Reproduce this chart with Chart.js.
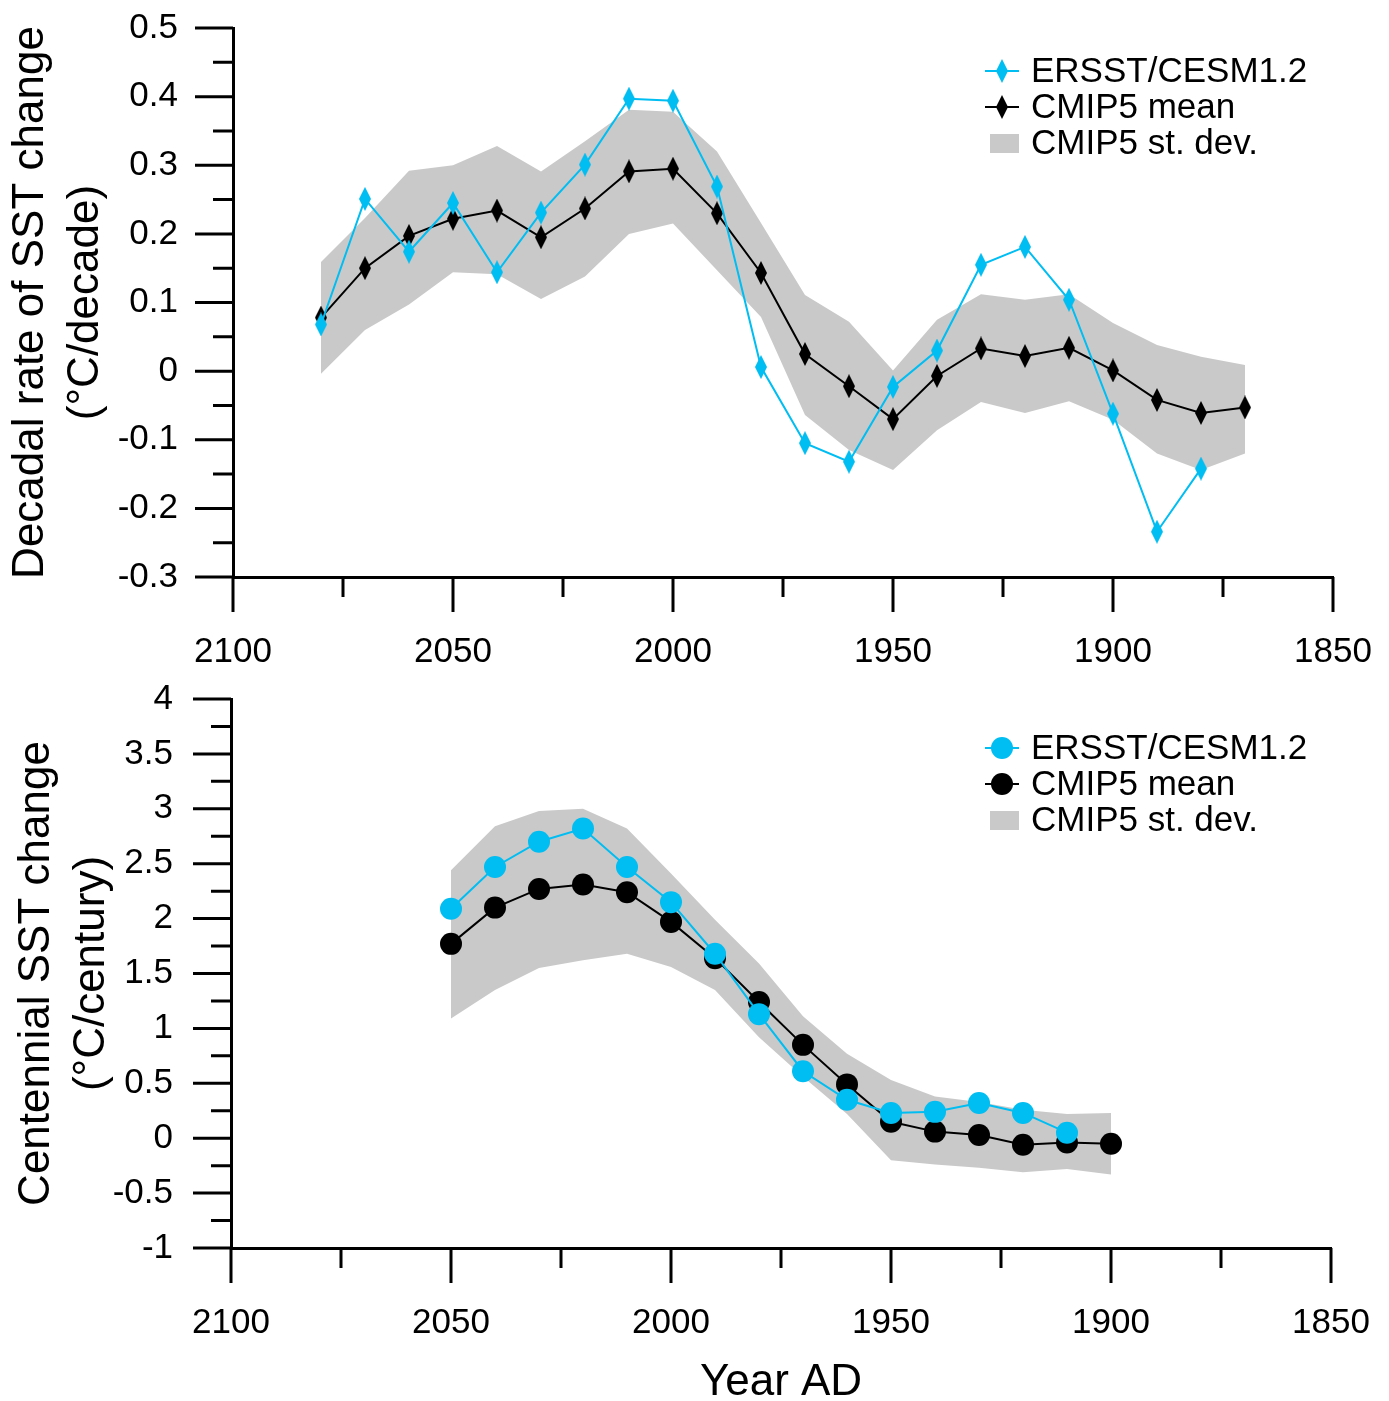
<!DOCTYPE html>
<html>
<head>
<meta charset="utf-8">
<script src="https://cdn.jsdelivr.net/npm/chart.js@4.4.1/dist/chart.umd.min.js"></script>
<style>
  html, body { margin: 0; padding: 0; background: #fff; overflow: hidden; }
  body { width: 1389px; height: 1401px; position: relative; }
  .panel { position: absolute; left: 0; }
  #topBox { top: 0; }
  #bottomBox { top: 670px; }
</style>
</head>
<body>
<div class="panel" id="topBox"><canvas id="decadalChart" width="1389" height="680"></canvas></div>
<div class="panel" id="bottomBox"><canvas id="centennialChart" width="1389" height="745"></canvas></div>
<script>
// ---- top panel: decadal rate of SST change (°C/decade)
const decadalYears = [2080, 2070, 2060, 2050, 2040, 2030, 2020, 2010, 2000, 1990, 1980,
                      1970, 1960, 1950, 1940, 1930, 1920, 1910, 1900, 1890, 1880, 1870];
const decadalMean  = [0.078, 0.150, 0.197, 0.222, 0.234, 0.195, 0.237, 0.291, 0.295, 0.230, 0.143,
                      0.025, -0.022, -0.070, -0.007, 0.033, 0.022, 0.034, 0.001, -0.042, -0.061, -0.053];
const decadalUpper = [0.159, 0.223, 0.292, 0.300, 0.328, 0.291, 0.335, 0.381, 0.378, 0.320, 0.216,
                      0.111, 0.072, 0.001, 0.075, 0.112, 0.104, 0.112, 0.070, 0.038, 0.021, 0.009];
const decadalLower = [-0.004, 0.060, 0.097, 0.144, 0.141, 0.105, 0.138, 0.200, 0.215, 0.147, 0.079,
                      -0.064, -0.115, -0.144, -0.086, -0.045, -0.061, -0.044, -0.071, -0.120, -0.144, -0.120];
const decadalErsstYears = [2080, 2070, 2060, 2050, 2040, 2030, 2020, 2010, 2000, 1990, 1980,
                           1970, 1960, 1950, 1940, 1930, 1920, 1910, 1900, 1890, 1880];
const decadalErsst = [0.068, 0.251, 0.174, 0.245, 0.144, 0.231, 0.301, 0.397, 0.394, 0.269, 0.006,
                      -0.105, -0.132, -0.023, 0.030, 0.155, 0.181, 0.104, -0.062, -0.234, -0.142];

// ---- bottom panel: centennial SST change (°C/century)
const centYears = [2050, 2040, 2030, 2020, 2010, 2000, 1990, 1980, 1970, 1960, 1950, 1940, 1930, 1920, 1910, 1900];
const centMean  = [1.77, 2.10, 2.27, 2.31, 2.24, 1.97, 1.64, 1.24, 0.85, 0.49, 0.15, 0.06, 0.03, -0.06, -0.04, -0.05];
const centUpper = [2.44, 2.84, 2.98, 3.00, 2.82, 2.41, 1.99, 1.59, 1.11, 0.77, 0.53, 0.38, 0.33, 0.26, 0.22, 0.23];
const centLower = [1.09, 1.35, 1.55, 1.62, 1.68, 1.56, 1.35, 0.92, 0.56, 0.22, -0.20, -0.24, -0.27, -0.31, -0.28, -0.33];
const centErsstYears = [2050, 2040, 2030, 2020, 2010, 2000, 1990, 1980, 1970, 1960, 1950, 1940, 1930, 1920, 1910];
const centErsst = [2.09, 2.47, 2.70, 2.82, 2.47, 2.15, 1.68, 1.13, 0.61, 0.35, 0.23, 0.24, 0.32, 0.23, 0.05];

const seriesLabels = ['ERSST/CESM1.2', 'CMIP5 mean', 'CMIP5 st. dev.'];
const yearTitle = 'Year AD';

const CYAN = '#00bdf2';
const BAND = '#c9c9c9';
const FONT = "'Liberation Sans', Arial, sans-serif";

function pairs(xs, ys) {
    return xs.map((x, i) => ({ x: x, y: ys[i] }));
}

// tall thin diamond used as marker in the top panel
function diamondMark(color, w, h) {
    const c = document.createElement('canvas');
    c.width = w;
    c.height = h;
    const g = c.getContext('2d');
    g.fillStyle = color;
    g.beginPath();
    g.moveTo(w / 2, 0);
    g.lineTo(w, h / 2);
    g.lineTo(w / 2, h);
    g.lineTo(0, h / 2);
    g.closePath();
    g.fill();
    return c;
}

// outward tick marks, long at labelled values, short in between
const axisTicks = {
    id: 'axisTicks',
    afterDraw(chart, args, opts) {
        const ctx = chart.ctx;
        const area = chart.chartArea;
        const xs = chart.scales.x;
        const ys = chart.scales.y;
        ctx.save();
        ctx.strokeStyle = '#000';
        ctx.lineWidth = opts.width;
        ctx.lineCap = 'butt';
        ctx.beginPath();
        xs.ticks.forEach(t => {
            const px = xs.getPixelForValue(t.value);
            const len = t.label !== '' ? opts.xMajor : opts.xMinor;
            ctx.moveTo(px, area.bottom);
            ctx.lineTo(px, area.bottom + len);
        });
        ys.ticks.forEach(t => {
            const py = ys.getPixelForValue(t.value);
            const len = t.label !== '' ? opts.yMajor : opts.yMinor;
            ctx.moveTo(area.left - len, py);
            ctx.lineTo(area.left, py);
        });
        ctx.stroke();
        ctx.restore();
    }
};

// legend with line + marker samples, drawn in the upper right of the plot
const sketchLegend = {
    id: 'sketchLegend',
    afterDraw(chart, args, opts) {
        const ctx = chart.ctx;
        ctx.save();
        ctx.font = opts.fontSize + 'px ' + FONT;
        ctx.textBaseline = 'middle';
        ctx.textAlign = 'left';
        let row = 0;
        chart.data.datasets.forEach(ds => {
            if (!ds.label) return;
            const y = opts.y + row * opts.gap;
            const x = opts.x;
            if (ds.fill) {
                ctx.fillStyle = ds.backgroundColor;
                ctx.fillRect(x + 5, y - 9, 29, 19);
            } else {
                ctx.strokeStyle = ds.borderColor;
                ctx.lineWidth = ds.borderWidth;
                ctx.beginPath();
                ctx.moveTo(x, y);
                ctx.lineTo(x + 34, y);
                ctx.stroke();
                const ps = ds.pointStyle;
                if (ps && typeof ps === 'object') {
                    ctx.drawImage(ps, x + 17 - ps.width / 2, y - ps.height / 2);
                } else {
                    ctx.fillStyle = ds.pointBackgroundColor;
                    ctx.beginPath();
                    ctx.arc(x + 17, y, ds.pointRadius, 0, Math.PI * 2);
                    ctx.fill();
                }
            }
            ctx.fillStyle = '#000';
            ctx.fillText(ds.label, x + 46, y + 1);
            row++;
        });
        ctx.restore();
    }
};

function yLabelEvery(unit) {
    return function(v) {
        const r = Math.round(v / unit);
        return Math.abs(v / unit - r) < 1e-6 ? String(Math.round(r * unit * 100) / 100) : '';
    };
}

// invisible chart.js ticks only push the labels away from the axis;
// the visible ticks come from the axisTicks plugin
function hiddenGrid(len) {
    return {
        display: true,
        drawOnChartArea: false,
        drawTicks: true,
        tickLength: len,
        tickColor: 'rgba(0,0,0,0)'
    };
}

function makeOptions(cfg) {
    return {
        responsive: false,
        animation: false,
        events: [],
        layout: { padding: { top: cfg.padTop, right: cfg.padRight, left: 0, bottom: 0 } },
        plugins: {
            legend: { display: false },
            tooltip: { enabled: false },
            axisTicks: { width: 3, xMajor: 35, xMinor: 20, yMajor: 38, yMinor: 20 },
            sketchLegend: { x: 985, y: cfg.legendY, gap: 36, fontSize: 35 }
        },
        scales: {
            x: {
                type: 'linear',
                position: 'bottom',
                reverse: true,
                min: 1850,
                max: 2100,
                grid: hiddenGrid(50),
                border: { display: true, color: '#000', width: 3 },
                ticks: {
                    stepSize: 25,
                    maxTicksLimit: 100,
                    autoSkip: false,
                    maxRotation: 0,
                    padding: 4,
                    color: '#000',
                    font: { family: FONT, size: 35 },
                    callback: v => (v % 50 === 0 ? String(v) : '')
                },
                title: {
                    display: !!cfg.xTitle,
                    text: cfg.xTitle || '',
                    color: '#000',
                    font: { family: FONT, size: 44, lineHeight: 1.2 },
                    padding: { top: 0, bottom: 6 }
                },
                afterFit: s => { s.height = cfg.xHeight; }
            },
            y: {
                type: 'linear',
                min: cfg.yMin,
                max: cfg.yMax,
                grid: hiddenGrid(cfg.yPad - 4),
                border: { display: true, color: '#000', width: 3 },
                ticks: {
                    stepSize: cfg.yStep,
                    maxTicksLimit: 100,
                    autoSkip: false,
                    padding: 4,
                    color: '#000',
                    font: { family: FONT, size: 35 },
                    callback: yLabelEvery(cfg.yLabelStep)
                },
                title: {
                    display: true,
                    text: cfg.yTitle,
                    color: '#000',
                    font: { family: FONT, size: 44, lineHeight: 1.26 },
                    padding: { top: cfg.yTitlePad, bottom: 0 }
                },
                afterFit: s => { s.width = cfg.yWidth; }
            }
        }
    };
}

// top chart
const diamondCyan = diamondMark(CYAN, 12, 24);
const diamondBlack = diamondMark('#000', 12, 24);

new Chart(document.getElementById('decadalChart'), {
    type: 'line',
    data: {
        datasets: [
            {
                label: seriesLabels[0],
                data: pairs(decadalErsstYears, decadalErsst),
                borderColor: CYAN,
                borderWidth: 2,
                pointStyle: diamondCyan,
                pointRadius: 6,
                fill: false,
                order: 0
            },
            {
                label: seriesLabels[1],
                data: pairs(decadalYears, decadalMean),
                borderColor: '#000',
                borderWidth: 2,
                pointStyle: diamondBlack,
                pointRadius: 6,
                fill: false,
                order: 1
            },
            {
                label: seriesLabels[2],
                data: pairs(decadalYears, decadalUpper),
                borderWidth: 0,
                pointRadius: 0,
                backgroundColor: BAND,
                fill: '+1',
                order: 2
            },
            {
                data: pairs(decadalYears, decadalLower),
                borderWidth: 0,
                pointRadius: 0,
                fill: false,
                order: 3
            }
        ]
    },
    options: makeOptions({
        padTop: 28, padRight: 56, legendY: 71,
        xHeight: 680 - 577, xTitle: null,
        yMin: -0.3, yMax: 0.5, yStep: 0.05, yLabelStep: 0.1, yPad: 55,
        yWidth: 233, yTitlePad: 3,
        yTitle: ['Decadal rate of SST change', '(°C/decade)']
    }),
    plugins: [axisTicks, sketchLegend]
});

// bottom chart
new Chart(document.getElementById('centennialChart'), {
    type: 'line',
    data: {
        datasets: [
            {
                label: seriesLabels[0],
                data: pairs(centErsstYears, centErsst),
                borderColor: CYAN,
                borderWidth: 2,
                pointStyle: 'circle',
                pointRadius: 11,
                pointBorderWidth: 0,
                pointBackgroundColor: CYAN,
                fill: false,
                order: 0
            },
            {
                label: seriesLabels[1],
                data: pairs(centYears, centMean),
                borderColor: '#000',
                borderWidth: 2,
                pointStyle: 'circle',
                pointRadius: 11,
                pointBorderWidth: 0,
                pointBackgroundColor: '#000',
                fill: false,
                order: 1
            },
            {
                label: seriesLabels[2],
                data: pairs(centYears, centUpper),
                borderWidth: 0,
                pointRadius: 0,
                backgroundColor: BAND,
                fill: '+1',
                order: 2
            },
            {
                data: pairs(centYears, centLower),
                borderWidth: 0,
                pointRadius: 0,
                fill: false,
                order: 3
            }
        ]
    },
    options: makeOptions({
        padTop: 29, padRight: 58, legendY: 748 - 670,
        xHeight: 745 - 578, xTitle: yearTitle,
        yMin: -1, yMax: 4, yStep: 0.25, yLabelStep: 0.5, yPad: 58,
        yWidth: 231, yTitlePad: 9,
        yTitle: ['Centennial SST change', '(°C/century)']
    }),
    plugins: [axisTicks, sketchLegend]
});
</script>
</body>
</html>
